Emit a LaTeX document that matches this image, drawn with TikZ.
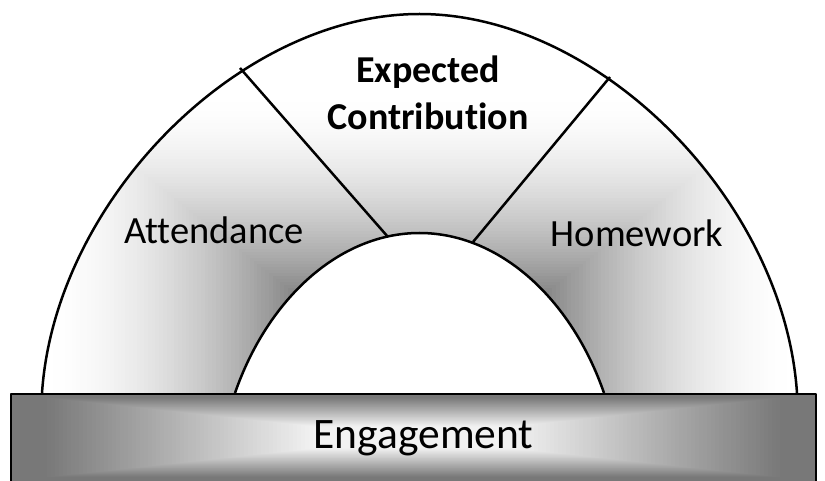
\documentclass[tikz,border=0pt]{standalone}
\usepackage{fontspec}
\setmainfont{Carlito}[Ligatures=NoCommon]
\begin{document}
\begin{tikzpicture}[x=1pt,y=-1pt,
  outline/.style={line width=2.5pt, line join=round, draw=black},
  lbl/.style={font=\fontsize{38.5}{46}\selectfont, anchor=base, inner sep=0pt},
  boldlbl/.style={lbl, font=\bfseries\fontsize{38}{46}\selectfont},
  biglbl/.style={lbl, font=\fontsize{43.5}{50}\selectfont}]
\useasboundingbox (0,0) rectangle (825,481);
% arch shading (rectangular path gradient)
\begin{scope}
\clip (42,393) .. controls (55,200) and (240,14) .. (419.5,14)
  .. controls (599,14) and (784,200) .. (797,393) -- (604,393)
  .. controls (571,298) and (499,233) .. (419.5,233)
  .. controls (340,233) and (268,298) .. (235,393) -- cycle;
\fill[white] (0,0) rectangle (825,400);
\foreach \i in {100,...,30} {
  \pgfmathsetmacro\m{\i/100}
  \pgfmathsetmacro\g{1-0.47*(max(0,min(1,(1-\m)/0.66)))^1.75}
  \pgfmathsetmacro\k{100*(1-\g)}
  \fill[black!\k] ({420-\m*378},{393-\m*300}) rectangle ({420+\m*378},{393+\m*300});
}
\end{scope}
% arch outlines
\draw[outline] (42,393) .. controls (55,200) and (240,14) .. (419.5,14)
  .. controls (599,14) and (784,200) .. (797,393);
\draw[outline] (604,393) .. controls (571,298) and (499,233) .. (419.5,233)
  .. controls (340,233) and (268,298) .. (235,393);
% dividers
\coordinate (d1a) at (240,68);
\coordinate (d1b) at (388,237);
\coordinate (d2a) at (610,77);
\coordinate (d2b) at (473,242);
\draw[outline] (d1a) -- (d1b);
\draw[outline] (d2a) -- (d2b);
% base
\begin{scope}
\clip (11,394) rectangle (816,483);
\foreach \i in {100,...,20} {
  \pgfmathsetmacro\m{\i/100}
  \pgfmathsetmacro\g{min(0.95,max(0.47,0.95-(\m-0.25)/0.67*0.48))}
  \pgfmathsetmacro\k{100*(1-\g)}
  \fill[black!\k] ({413.5-\m*402.5},{437.5-\m*43.5}) rectangle ({413.5+\m*402.5},{437.5+\m*43.5});
}
\end{scope}
\draw[outline] (11,394) rectangle (816,483);
% labels
\node[lbl] (att) at (214,244) {Attendance};
\node[lbl] (hw) at (637,247) {Homework};
\node[boldlbl] (ec1) at (428,83) {Expected};
\node[boldlbl] (ec2) at (428,130) {Contribution};
\node[biglbl] (eng) at (423.5,448) {Engagement};
\end{tikzpicture}
\end{document}
